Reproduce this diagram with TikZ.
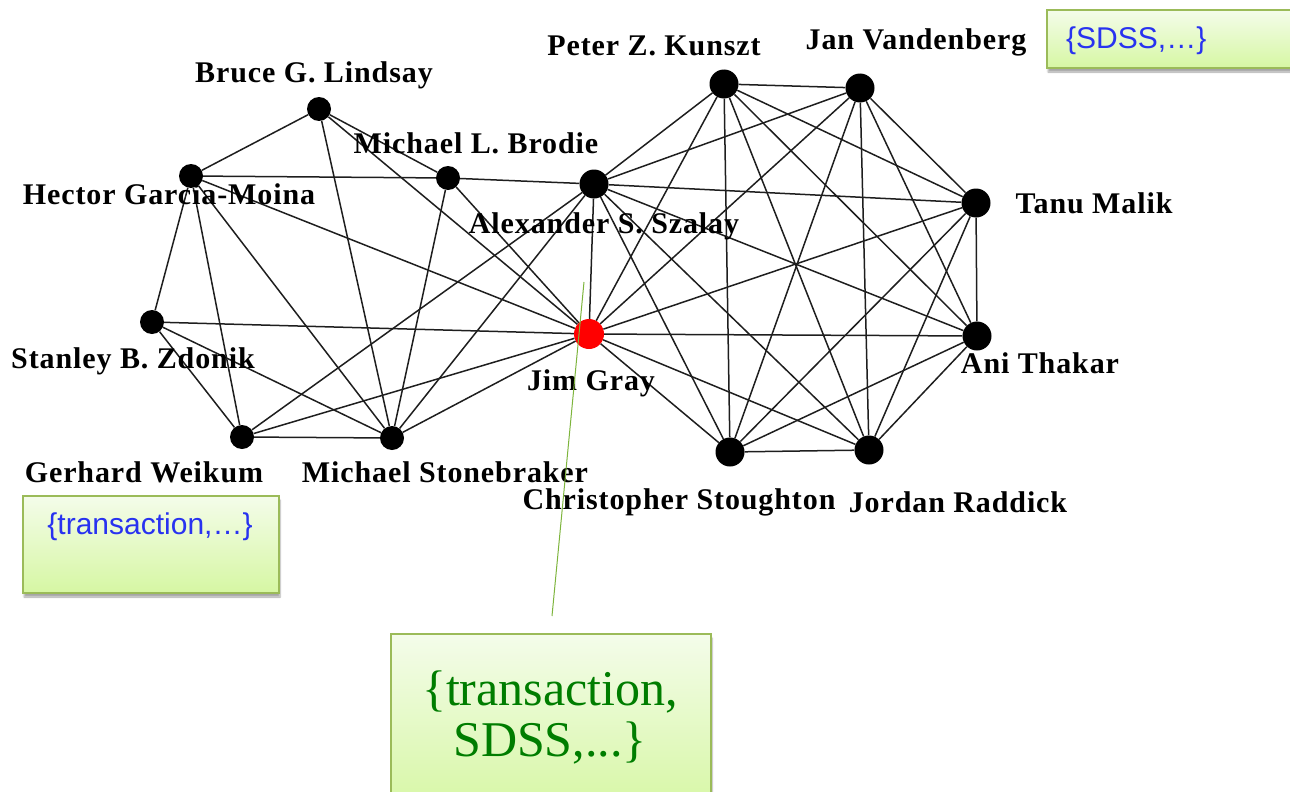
\documentclass[tikz,border=0pt]{standalone}
\usepackage{fontspec}
\usetikzlibrary{shadows.blur}
\newfontfamily\labelfont{Liberation Serif}[LetterSpace=3]
\newfontfamily\tagsans{Liberation Sans}
\newfontfamily\tagserif{Liberation Serif}
\definecolor{edgegray}{RGB}{30,30,30}
\definecolor{tagtop}{RGB}{244,252,234}
\definecolor{tagbot}{RGB}{214,247,163}
\definecolor{tagrim}{RGB}{155,187,89}
\definecolor{tagblue}{RGB}{40,50,240}
\definecolor{taggreen}{RGB}{0,125,0}
\definecolor{leader}{RGB}{125,180,60}

\begin{document}
\begin{tikzpicture}[x=1pt,y=-1pt,
  vtx/.style={circle,fill=black,inner sep=0pt,minimum size=24pt},
  hub/.style={vtx,minimum size=29pt},
  seed/.style={circle,fill=red,inner sep=0pt,minimum width=30pt,minimum height=28pt},
  author/.style={font=\labelfont\bfseries\fontsize{30}{32}\selectfont,inner sep=0pt},
  link/.style={draw=edgegray,line width=1.5pt},
  kwbox/.style={draw=tagrim,line width=2pt,top color=tagtop,bottom color=tagbot,
    blur shadow={shadow xshift=1pt,shadow yshift=-4pt,shadow blur steps=6,shadow opacity=35},
    inner sep=0pt,anchor=north west}
]
\useasboundingbox (0,0) rectangle (1290,792);
\clip (0,0) rectangle (1290,792);

% keyword boxes
\node[kwbox,minimum width=260pt,minimum height=58pt] (sdsstag) at (1046,9) {};
\node[font=\tagsans\fontsize{30}{32}\selectfont,text=tagblue,anchor=west,inner sep=0pt]
  (sdsstext) at (1066,41) {\{SDSS,…\}};
\node[kwbox,minimum width=256pt,minimum height=97pt] (txntag) at (22,495) {};
\node[font=\tagsans\fontsize{30}{32}\selectfont,text=tagblue,inner sep=0pt]
  (txntext) at (150,527) {\{transaction,…\}};
\node[kwbox,minimum width=320pt,minimum height=180pt] (jointtag) at (390,633) {};
\node[font=\tagserif\fontsize{50}{51}\selectfont,text=taggreen,align=center,inner sep=0pt]
  (jointtext) at (550,717) {\{transaction,\\SDSS,...\}};

% authors
\node[vtx] (BL) at (319,109) {};
\node[vtx] (HG) at (191,176) {};
\node[vtx] (MB) at (448,178) {};
\node[vtx] (SZ) at (152,322) {};
\node[vtx] (GW) at (242,437) {};
\node[vtx] (MS) at (392,438) {};
\node[hub] (AS) at (594,184) {};
\node[seed] (JG) at (589,334) {};
\node[hub] (PK) at (724,84) {};
\node[hub] (JV) at (860,88) {};
\node[hub] (TM) at (976,203) {};
\node[hub] (AT) at (977,336) {};
\node[hub] (JR) at (869,450) {};
\node[hub] (CS) at (730,452) {};

% database co-authorship links
\foreach \a/\b in {BL/HG,BL/MB,BL/JG,BL/MS,
  HG/MB,HG/SZ,HG/GW,HG/MS,HG/JG,
  SZ/GW,SZ/MS,SZ/JG,
  GW/MS,GW/AS,GW/JG,
  MS/MB,MS/AS,MS/JG,
  MB/AS,MB/JG}
  \draw[link] (\a) -- (\b);

% SDSS clique
\foreach \a/\b in {AS/JG,AS/PK,AS/JV,AS/TM,AS/AT,AS/JR,AS/CS,
  JG/PK,JG/JV,JG/TM,JG/AT,JG/JR,JG/CS,
  PK/JV,PK/TM,PK/AT,PK/JR,PK/CS,
  JV/TM,JV/AT,JV/JR,JV/CS,
  TM/AT,TM/JR,TM/CS,
  AT/JR,AT/CS,
  JR/CS}
  \draw[link] (\a) -- (\b);

% author names
\node[author] (lBL) at (314,75) {Bruce G. Lindsay};
\node[author] (lHG) at (169,194) {Hector Garcia-Moina};
\node[author] (lMB) at (476,143) {Michael L. Brodie};
\node[author] (lAS) at (604,226) {Alexander S. Szalay};
\node[author] (lSZ) at (133,361) {Stanley B. Zdonik};
\node[author] (lJG) at (591,383) {Jim Gray};
\node[author] (lGW) at (144,472) {Gerhard Weikum};
\node[author] (lMS) at (445,472) {Michael Stonebraker};
\node[author] (lCS) at (679,502) {Christopher Stoughton};
\node[author] (lJR) at (958,502) {Jordan Raddick};
\node[author] (lAT) at (1040,363) {Ani Thakar};
\node[author] (lTM) at (1094,203) {Tanu Malik};
\node[author] (lPK) at (654,46) {Peter Z. Kunszt};
\node[author] (lJV) at (916,42) {Jan Vandenberg};

% leader from the joint keyword box up to Jim Gray
\coordinate (leadtop) at (584,282);
\coordinate (leadfoot) at (552,616);
\draw[leader,line width=1pt] (leadfoot) -- (leadtop);
\end{tikzpicture}
\end{document}
